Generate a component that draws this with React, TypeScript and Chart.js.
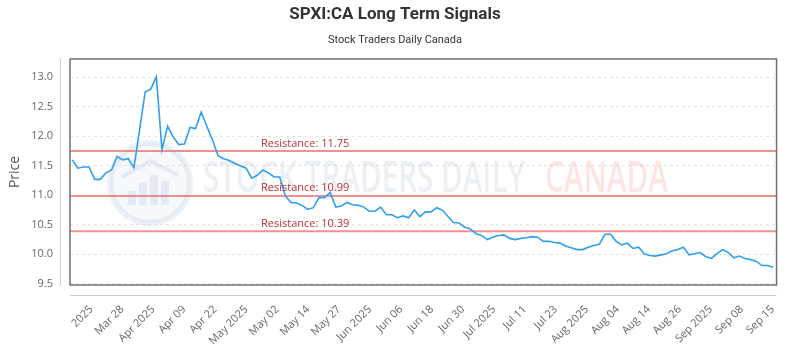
import React, { useEffect, useRef } from 'react';
import { Chart, registerables } from 'chart.js';

Chart.register(...registerables);

const titleText = 'SPXI:CA Long Term Signals';
const subtitleText = 'Stock Traders Daily Canada';
const yAxisTitle = 'Price';

const prices: number[] = [
  11.6, 11.46, 11.48, 11.48, 11.27, 11.27, 11.38, 11.43, 11.66, 11.6,
  11.62, 11.47, 12.1, 12.75, 12.8, 13.01, 11.77, 12.17, 11.99, 11.86,
  11.87, 12.15, 12.13, 12.41, 12.17, 11.94, 11.67, 11.62, 11.59, 11.54,
  11.5, 11.46, 11.29, 11.34, 11.43, 11.38, 11.31, 11.31, 10.99, 10.88,
  10.87, 10.83, 10.76, 10.79, 10.96, 10.96, 11.05, 10.8, 10.82, 10.88,
  10.84, 10.83, 10.8, 10.73, 10.73, 10.8, 10.67, 10.67, 10.62, 10.65,
  10.62, 10.75, 10.64, 10.72, 10.72, 10.79, 10.75, 10.64, 10.54, 10.53,
  10.46, 10.43, 10.35, 10.32, 10.25, 10.29, 10.32, 10.33, 10.27, 10.25,
  10.27, 10.28, 10.3, 10.29, 10.22, 10.22, 10.2, 10.19, 10.14, 10.11,
  10.08, 10.08, 10.12, 10.15, 10.17, 10.34, 10.34, 10.22, 10.16, 10.19,
  10.1, 10.12, 10.01, 9.98, 9.97, 9.99, 10.01, 10.06, 10.08, 10.12,
  9.99, 10.01, 10.03, 9.96, 9.93, 10.01, 10.08, 10.03, 9.94, 9.97,
  9.93, 9.91, 9.88, 9.81, 9.81, 9.78,
];

const xTickLabels: string[] = [
  '2025', 'Mar 28', 'Apr 2025', 'Apr 09', 'Apr 22', 'May 2025', 'May 02',
  'May 14', 'May 27', 'Jun 2025', 'Jun 06', 'Jun 18', 'Jun 30', 'Jul 2025',
  'Jul 11', 'Jul 23', 'Aug 2025', 'Aug 04', 'Aug 14', 'Aug 26', 'Sep 2025',
  'Sep 08', 'Sep 15',
];

const yTickValues: number[] = [9.5, 10, 10.5, 11, 11.5, 12, 12.5, 13];
const resistanceLevels: number[] = [11.75, 10.99, 10.39];

export default function App() {
  const canvasRef = useRef<HTMLCanvasElement>(null);

  useEffect(() => {
    document.body.style.margin = '0';
    const canvas = canvasRef.current;
    if (!canvas) return;

    const points = prices.map((y, i) => ({ x: i, y }));
    const firstTick = 3.4;
    const lastTick = 124.9;
    const tickVals = xTickLabels.map(
      (_, k) => firstTick + (k * (lastTick - firstTick)) / (xTickLabels.length - 1)
    );

    const decorPlugin = {
      id: 'decor',
      beforeDatasetsDraw(chart: any) {
        const { ctx, chartArea: a, scales } = chart;
        ctx.save();
        // watermark logo
        const cx = a.left + 80;
        const cy = a.top + 124;
        ctx.beginPath();
        ctx.arc(cx, cy, 40, 0, Math.PI * 2);
        ctx.fillStyle = 'rgba(170,190,220,0.10)';
        ctx.fill();
        ctx.lineWidth = 6;
        ctx.strokeStyle = 'rgba(170,190,220,0.22)';
        ctx.stroke();
        ctx.fillStyle = 'rgba(170,190,220,0.25)';
        const bars = [[-22, 14], [-11, 22], [0, 30], [11, 24]];
        bars.forEach(([dx, h]) => {
          ctx.fillRect(cx + dx, cy + 22 - h, 8, h);
        });
        ctx.beginPath();
        ctx.moveTo(cx - 28, cy - 6);
        ctx.lineTo(cx, cy - 22);
        ctx.lineTo(cx + 28, cy - 8);
        ctx.lineWidth = 4;
        ctx.strokeStyle = 'rgba(170,190,220,0.25)';
        ctx.stroke();
        // watermark text
        ctx.font = '600 44px "Open Sans", sans-serif';
        ctx.textBaseline = 'alphabetic';
        ctx.textAlign = 'left';
        ctx.fillStyle = 'rgba(150,170,200,0.18)';
        ctx.fillText('STOCK TRADERS DAILY', a.left + 133, a.top + 133, 322);
        ctx.fillStyle = 'rgba(255,120,120,0.2)';
        ctx.fillText('CANADA', a.left + 475, a.top + 133, 123);

        // resistance lines
        const y = scales.y;
        resistanceLevels.forEach((lv) => {
          const py = y.getPixelForValue(lv);
          ctx.beginPath();
          ctx.moveTo(a.left, py);
          ctx.lineTo(a.right, py);
          ctx.lineWidth = 2;
          ctx.strokeStyle = 'rgba(235,100,100,0.7)';
          ctx.stroke();
        });
        ctx.restore();
      },
      afterDatasetsDraw(chart: any) {
        const { ctx, chartArea: a, scales } = chart;
        ctx.save();
        const y = scales.y;
        ctx.font = '11px "Open Sans", sans-serif';
        ctx.fillStyle = '#b83232';
        ctx.textAlign = 'left';
        ctx.textBaseline = 'alphabetic';
        resistanceLevels.forEach((lv) => {
          const py = y.getPixelForValue(lv);
          ctx.fillText('Resistance: ' + lv.toFixed(2), a.left + 191, py - 4.5);
        });
        // frame
        ctx.lineWidth = 1.5;
        ctx.strokeStyle = '#707070';
        ctx.strokeRect(a.left, a.top, a.right - a.left, a.bottom - a.top);
        // offset axis lines
        ctx.lineWidth = 1;
        ctx.strokeStyle = '#cccccc';
        ctx.beginPath();
        ctx.moveTo(a.left - 9.5, a.top);
        ctx.lineTo(a.left - 9.5, a.bottom);
        ctx.moveTo(a.left, a.bottom + 10.5);
        ctx.lineTo(a.right, a.bottom + 10.5);
        ctx.stroke();
        ctx.restore();
      },
    };

    const chart = new Chart(canvas, {
      type: 'line',
      data: {
        datasets: [
          {
            label: 'Price',
            data: points,
            borderColor: '#2f9ff0',
            backgroundColor: '#2f9ff0',
            borderWidth: 1.6,
            pointRadius: 0,
            tension: 0,
            fill: false,
          },
        ],
      },
      options: {
        responsive: false,
        maintainAspectRatio: false,
        animation: false,
        layout: { padding: { left: 0, right: 10, top: 0, bottom: 0 } },
        plugins: {
          legend: { display: false },
          tooltip: { enabled: false },
          title: {
            display: true,
            text: titleText,
            color: '#333',
            font: { family: 'Roboto, sans-serif', size: 17, weight: 'bold' },
            padding: { top: 5, bottom: 4 },
          },
          subtitle: {
            display: true,
            text: subtitleText,
            color: '#333',
            font: { family: 'Roboto, sans-serif', size: 11 },
            padding: { top: 4, bottom: 12.4 },
          },
        },
        scales: {
          x: {
            type: 'linear',
            min: -0.4,
            max: prices.length - 1 + 0.6,
            grid: { display: false, drawTicks: false },
            border: { display: false },
            afterFit: (s: any) => {
              s.height = 65;
            },
            afterBuildTicks: (s: any) => {
              s.ticks = tickVals.map((v) => ({ value: v }));
            },
            ticks: {
              autoSkip: false,
              minRotation: 45,
              maxRotation: 45,
              padding: 18,
              color: '#666',
              font: { family: '"Open Sans", sans-serif', size: 11 },
              callback: (_v: any, i: number) => xTickLabels[i],
            },
          },
          y: {
            type: 'linear',
            min: 9.48,
            max: 13.31,
            grid: { color: '#e4e4e4', drawTicks: false },
            border: { display: false, dash: [3, 3] },
            afterFit: (s: any) => {
              s.width = 70;
            },
            afterBuildTicks: (s: any) => {
              s.ticks = yTickValues.map((v) => ({ value: v }));
            },
            ticks: {
              padding: 17,
              color: '#666',
              font: { family: '"Open Sans", sans-serif', size: 11 },
              callback: (v: any) => Number(v).toFixed(1),
            },
            title: {
              display: true,
              text: yAxisTitle,
              color: '#555',
              font: { family: '"Open Sans", sans-serif', size: 14 },
              padding: { top: 7, bottom: 0 },
            },
          },
        },
      },
      plugins: [decorPlugin],
    } as any);

    return () => chart.destroy();
  }, []);

  return (
    <div style={{ width: 800, height: 350 }}>
      <canvas ref={canvasRef} width={800} height={350} />
    </div>
  );
}
